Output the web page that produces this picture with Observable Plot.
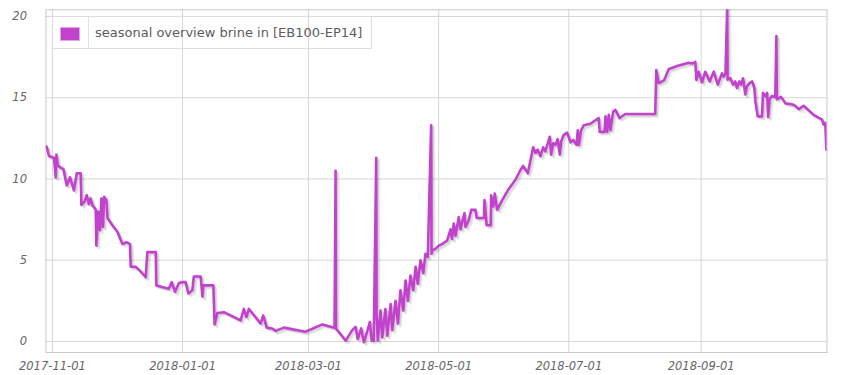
<!DOCTYPE html>
<html>
<head>
<meta charset="utf-8">
<script src="https://cdn.jsdelivr.net/npm/d3@7"></script>
<script src="https://cdn.jsdelivr.net/npm/@observablehq/plot@0.6"></script>
<style>
  html, body { margin: 0; padding: 0; background: #fff; }
  #wrap { position: relative; width: 850px; height: 375px; }
  #legend { position: absolute; left: 52px; top: 16px; width: 320px; height: 33px; box-sizing: border-box;
            border: 1px solid #dddddd; font-family: "DejaVu Sans", sans-serif; font-size: 13px; color: #5c5c5c; }
  #legend .sw { position: absolute; left: 7px; top: 10px; width: 18px; height: 12px; background: #c342cd; border: 1px solid #e3a6e8; }
  #legend .sep { position: absolute; left: 35px; top: 0; width: 1px; height: 31px; background: #e2e2e2; }
  #legend .tx { position: absolute; left: 42px; top: 0; line-height: 31px; white-space: nowrap; }
</style>
</head>
<body>
<div id="wrap"></div>
<script>
const seriesName = "seasonal overview brine in [EB100-EP14]";
const xTickLabels = ["2017-11-01", "2018-01-01", "2018-03-01", "2018-05-01", "2018-07-01", "2018-09-01"];
const yTicks = [0, 5, 10, 15, 20];
const xDomainLabels = ["2017-10-29", "2018-10-30"];
const yDomain = [-0.68, 20.41];

const dates = [
"2017-10-29T06","2017-10-30T10","2017-11-01T18","2017-11-02T13","2017-11-02T21","2017-11-03T15","2017-11-04T21","2017-11-06T04","2017-11-07T17","2017-11-09T06",
"2017-11-11T02","2017-11-12T10","2017-11-14T06","2017-11-14T14","2017-11-16T02","2017-11-17T02","2017-11-18T02","2017-11-18T22","2017-11-19T17","2017-11-21T07",
"2017-11-21T14","2017-11-22T10","2017-11-23T07","2017-11-23T23","2017-11-24T17","2017-11-25T05","2017-11-26T07","2017-11-26T19","2017-11-29T02","2017-12-01T10",
"2017-12-03T19","2017-12-05T19","2017-12-07T08","2017-12-07T17","2017-12-10T00","2017-12-12T10","2017-12-14T17","2017-12-15T12","2017-12-19T10","2017-12-19T17",
"2017-12-25T14","2017-12-26T22","2017-12-28T10","2017-12-30T07","2017-12-31T22","2018-01-02T10","2018-01-03T17","2018-01-05T14","2018-01-06T07","2018-01-09T12",
"2018-01-10T07","2018-01-10T17","2018-01-15T10","2018-01-16T00","2018-01-17T07","2018-01-20T10","2018-01-28T05","2018-01-29T17","2018-01-30T22","2018-02-01T02",
"2018-02-06T14","2018-02-07T19","2018-02-09T10","2018-02-12T00","2018-02-13T14","2018-02-17T12","2018-02-27T14","2018-03-07T12","2018-03-13T05","2018-03-13T17",
"2018-03-13T21","2018-03-18T10","2018-03-21T12","2018-03-23T02","2018-03-24T02","2018-03-25T17","2018-03-26T23","2018-03-28T12","2018-03-29T19","2018-03-30T14",
"2018-03-31T14","2018-04-01T18","2018-04-01T22","2018-04-02T12","2018-04-03T19","2018-04-04T14","2018-04-06T02","2018-04-06T22","2018-04-08T12","2018-04-09T06",
"2018-04-10T19","2018-04-11T22","2018-04-13T02","2018-04-14T10","2018-04-15T12","2018-04-16T14","2018-04-17T19","2018-04-19T02","2018-04-20T05","2018-04-21T05",
"2018-04-22T12","2018-04-23T19","2018-04-24T20","2018-04-25T22","2018-04-27T12","2018-04-27T16","2018-04-28T00","2018-04-29T12","2018-05-01T02","2018-05-02T17",
"2018-05-05T00","2018-05-06T14","2018-05-07T06","2018-05-08T02","2018-05-08T22","2018-05-10T10","2018-05-11T05","2018-05-13T02","2018-05-13T14","2018-05-15T02",
"2018-05-16T07","2018-05-18T07","2018-05-18T19","2018-05-22T05","2018-05-22T12","2018-05-23T12","2018-05-25T10","2018-05-25T14","2018-05-26T14","2018-05-27T07",
"2018-05-28T10","2018-05-30T19","2018-06-02T22","2018-06-06T00","2018-06-08T08","2018-06-09T14","2018-06-11T19","2018-06-14T07","2018-06-15T10","2018-06-16T10",
"2018-06-17T17","2018-06-19T00","2018-06-20T00","2018-06-22T02","2018-06-22T17","2018-06-23T17","2018-06-24T18","2018-06-25T19","2018-06-26T18","2018-06-27T10",
"2018-06-28T14","2018-06-30T05","2018-07-01T19","2018-07-03T01","2018-07-04T14","2018-07-05T05","2018-07-05T17","2018-07-06T19","2018-07-08T00","2018-07-11T02",
"2018-07-15T00","2018-07-15T12","2018-07-17T17","2018-07-18T05","2018-07-19T00","2018-07-19T17","2018-07-20T12","2018-07-21T19","2018-07-22T20","2018-07-23T14",
"2018-07-24T19","2018-07-27T12","2018-08-10T12","2018-08-11T00","2018-08-12T02","2018-08-13T17","2018-08-14T19","2018-08-16T19","2018-08-20T17","2018-08-26T05",
"2018-08-27T19","2018-08-29T07","2018-08-29T19","2018-08-30T20","2018-09-01T10","2018-09-02T23","2018-09-05T00","2018-09-06T22","2018-09-08T19","2018-09-10T19",
"2018-09-11T14","2018-09-12T10","2018-09-13T05","2018-09-13T10","2018-09-14T17","2018-09-16T00","2018-09-17T01","2018-09-17T19","2018-09-18T22","2018-09-19T17",
"2018-09-20T16","2018-09-21T17","2018-09-22T12","2018-09-23T17","2018-09-24T22","2018-09-25T23","2018-09-26T10","2018-09-27T12","2018-09-29T13","2018-09-30T00",
"2018-10-01T02","2018-10-01T22","2018-10-02T10","2018-10-03T02","2018-10-04T05","2018-10-05T12","2018-10-05T19","2018-10-06T07","2018-10-06T12","2018-10-08T11",
"2018-10-10T12","2018-10-13T14","2018-10-15T05","2018-10-16T17","2018-10-19T01","2018-10-23T17","2018-10-27T16","2018-10-28T10","2018-10-29T05","2018-10-29T17"
];

const values = [
12.0,11.4,11.3,10.1,11.5,10.8,10.7,10.6,9.6,10.1,
9.3,10.35,10.35,8.4,8.6,9.0,8.45,8.8,8.4,8.1,
5.9,8.0,6.85,8.8,7.05,8.9,8.7,7.6,7.15,6.75,
6.0,6.1,6.0,4.6,4.6,4.3,3.95,5.5,5.5,3.45,
3.25,3.65,3.05,3.6,3.65,3.65,2.95,3.15,4.0,4.0,
2.75,3.45,3.45,1.05,1.75,1.8,1.3,2.0,1.5,2.0,
1.1,1.6,0.85,0.8,0.65,0.85,0.6,1.05,0.85,10.5,
0.8,0.05,0.7,0.9,0.15,0.8,-0.05,0.6,1.2,0.05,
0.05,11.3,1.7,0.05,1.9,0.25,2.0,0.35,2.3,0.7,
2.5,1.1,3.15,1.9,3.75,2.5,4.05,3.15,4.6,3.55,
5.0,4.2,5.4,5.2,13.3,5.4,5.6,5.7,5.9,6.0,
6.2,6.9,6.3,7.25,6.5,7.65,6.9,7.9,7.05,7.45,
8.1,8.1,7.6,7.6,8.7,7.15,7.15,9.0,8.3,9.1,
8.1,8.7,9.4,9.95,10.55,10.8,10.35,11.95,11.6,11.8,
11.4,11.95,11.7,12.6,11.5,12.2,12.1,12.45,11.5,12.3,
12.7,12.85,12.25,12.4,12.1,13.0,12.1,13.0,13.3,13.4,
13.75,12.9,12.9,13.85,12.9,13.95,13.0,14.15,14.25,14.05,
13.75,14.0,14.0,16.7,15.9,16.0,16.1,16.75,16.95,17.15,
17.1,17.2,16.1,16.6,15.95,16.6,16.0,16.6,15.8,16.5,
16.3,16.5,20.5,16.1,16.2,15.8,16.0,15.6,16.0,15.8,
16.2,15.2,15.7,15.9,16.0,15.6,14.8,13.85,13.85,15.3,
15.1,15.3,13.8,14.9,15.1,15.05,15.3,18.8,14.9,15.05,
14.65,14.6,14.5,14.3,14.5,13.95,13.65,13.35,13.45,11.8
];

const parseT = d3.utcParse("%Y-%m-%dT%H");
const parseD = d3.utcParse("%Y-%m-%d");
const data = dates.map((d, i) => ({date: parseT(d), value: values[i]}));
const xTicks = xTickLabels.map(parseD);
const xDomain = xDomainLabels.map(parseD);

const lineColor = "#c342cd";
const shadows = [1, 2, 3].map(k => Plot.line(data, {
  x: "date", y: "value", stroke: "#000", strokeOpacity: 0.07, strokeWidth: 2.6,
  dx: 0.9 * k, dy: 0.9 * k, clip: true, strokeLinejoin: "round"
}));

const chart = Plot.plot({
  width: 850,
  height: 375,
  marginLeft: 45.5,
  marginRight: 23.5,
  marginTop: 9.3,
  marginBottom: 23,
  style: {fontFamily: "DejaVu Sans, sans-serif", fontSize: "11.5px", fontStyle: "italic", color: "#666666", background: "#fff"},
  x: {type: "utc", domain: xDomain, ticks: xTicks, tickFormat: d3.utcFormat("%Y-%m-%d"), tickSize: 0, tickPadding: 9, label: null},
  y: {domain: yDomain, ticks: yTicks, tickSize: 0, tickPadding: 19, label: null},
  marks: [
    Plot.gridX(xTicks, {stroke: "#d6d6d6", strokeOpacity: 1}),
    Plot.gridY(yTicks, {stroke: "#d6d6d6", strokeOpacity: 1}),
    Plot.frame({stroke: "#c8c8c8"}),
    ...shadows,
    Plot.line(data, {x: "date", y: "value", stroke: lineColor, strokeWidth: 2.6, clip: true, strokeLinejoin: "round"})
  ]
});

const wrap = document.getElementById("wrap");
wrap.appendChild(chart);
const legend = document.createElement("div");
legend.id = "legend";
legend.innerHTML = '<div class="sw"></div><div class="sep"></div><div class="tx"></div>';
legend.querySelector(".tx").textContent = seriesName;
wrap.appendChild(legend);
</script>
</body>
</html>
